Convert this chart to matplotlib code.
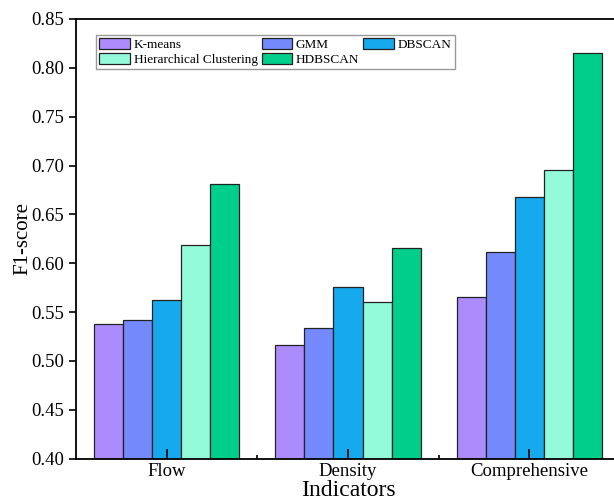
import numpy as np
import matplotlib.pyplot as plt
from matplotlib.ticker import MultipleLocator, FixedLocator

plt.rcParams["font.family"] = ["Liberation Serif", "DejaVu Serif"]

categories = ["Flow", "Density", "Comprehensive"]
methods = ["K-means", "GMM", "DBSCAN", "Hierarchical Clustering", "HDBSCAN"]
kmeans = [0.538, 0.516, 0.565]
gmm = [0.542, 0.534, 0.612]
dbscan = [0.562, 0.576, 0.668]
hier = [0.619, 0.560, 0.695]
hdbscan = [0.681, 0.616, 0.815]
series = [kmeans, gmm, dbscan, hier, hdbscan]
colors = ["#AC8CFC", "#7489FC", "#16A9EE", "#94FBDA", "#00CF8B"]

fig = plt.figure(figsize=(6.14, 5.00), dpi=100)
ax = fig.add_axes([76/614, 41.3/500, 544/614, 439.7/500])

x = np.arange(len(categories))
width = 0.16
handles = []
for i, (vals, name) in enumerate(zip(series, methods)):
    b = ax.bar(x + (i - 2) * width, vals, width,
               color=colors[i], edgecolor="#222222", linewidth=0.9, label=name)
    handles.append(b)

ax.set_xlim(-0.5, 2.5)
ax.set_ylim(0.40, 0.85)
ax.yaxis.set_major_locator(MultipleLocator(0.05))
ax.yaxis.set_major_formatter(plt.FormatStrFormatter("%.2f"))
ax.set_xticks(x)
ax.set_xticklabels(categories)
ax.xaxis.set_minor_locator(FixedLocator([0.5, 1.5]))
ax.tick_params(axis="x", which="major", direction="in", length=7, width=1.2, labelsize=13.5, pad=3)
ax.tick_params(axis="x", which="minor", direction="in", length=3, width=1.2)
ax.tick_params(axis="y", which="major", direction="out", length=5, width=1.2, labelsize=13.5)
for s in ax.spines.values():
    s.set_linewidth(1.3)

ax.set_ylabel("F1-score", fontsize=15, labelpad=-1)
ax.set_xlabel("Indicators", fontsize=17, labelpad=0)

order = [0, 3, 1, 4, 2]
leg = ax.legend([handles[i] for i in order], [methods[i] for i in order],
                ncol=3, loc="upper left", bbox_to_anchor=(0.037, 0.964),
                borderaxespad=0, fontsize=9.5, fancybox=False, framealpha=1,
                edgecolor="#999999", handlelength=2.3, handleheight=0.9,
                handletextpad=0.3, columnspacing=0.3, labelspacing=0.15,
                borderpad=0.25)
leg.get_frame().set_linewidth(1.0)

fig.savefig("out.png", dpi=100)
